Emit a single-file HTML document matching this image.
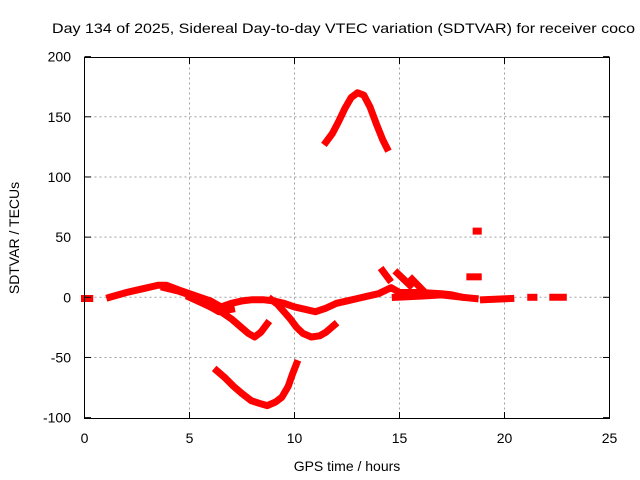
<!DOCTYPE html>
<html><head><meta charset="utf-8"><style>body{margin:0;background:#fff}svg{display:block}text{font-family:"Liberation Sans",sans-serif;font-size:14px;fill:#000}</style></head>
<body>
<svg id="chart" width="640" height="480" xmlns="http://www.w3.org/2000/svg">
<g id="grid"></g>
<g id="series"></g>
<rect x="84.5" y="57.5" width="525" height="361" fill="none" stroke="#000" stroke-width="1"/>
<g id="ticks"></g>
<text x="52" y="33" textLength="583" lengthAdjust="spacingAndGlyphs">Day 134 of 2025, Sidereal Day-to-day VTEC variation (SDTVAR) for receiver coco</text>
<text x="347" y="471" text-anchor="middle">GPS time / hours</text>
<text transform="translate(19,238) rotate(-90)" text-anchor="middle">SDTVAR / TECUs</text>
</svg>
<script>
const xTicks=[0,5,10,15,20,25];
const yTicks=[-100,-50,0,50,100,150,200];
const mainBand=[[1.2,0],[1.6,2],[2,4],[2.5,6],[3,8],[3.5,10],[3.9,10],[4.5,6],[5,3],[5.5,0],[6,-3],[6.5,-8],[7,-5],[7.5,-3],[8,-2],[8.5,-2],[9,-3],[9.5,-5],[10,-8],[10.5,-10],[11,-12],[11.5,-9],[12,-5],[12.5,-3],[13,-1],[13.5,1],[14,3],[14.6,8],[15,4],[16,4],[17,3],[17.5,2],[18,0],[18.6,-1]];
const mainBand2=[[3.8,8],[4.5,5],[5,2],[5.8,-6],[6.4,-12],[7,-10]];
const loopA=[[5,0],[5.5,-4],[6,-8],[6.5,-12],[7,-18],[7.4,-24],[7.8,-30],[8.1,-33],[8.4,-29],[8.7,-22]];
const loopB=[[8.9,-2],[9.2,-6],[9.5,-12],[9.8,-18],[10.1,-25],[10.4,-30],[10.8,-33],[11.2,-32],[11.5,-29],[11.9,-23]];
const lowerU=[[6.3,-61],[6.7,-67],[7.1,-74],[7.5,-80],[7.95,-86],[8.3,-88],[8.7,-90],[9.1,-87],[9.4,-83],[9.7,-74],[9.9,-64],[10.1,-55]];
const upperArch=[[11.5,129],[11.8,136],[12.1,146],[12.4,157],[12.7,166],[13,170],[13.3,168],[13.6,158],[13.9,144],[14.2,131],[14.4,124]];
const spike1=[[14.2,22],[14.5,15]];
const spike2=[[14.9,20],[15.5,10]];
const spike3=[[15.6,15],[16.1,6]];
const seg0=[[0,-1],[0.25,-1]];
const dot55=[[18.65,55],[18.75,55]];
const seg17=[[18.35,17],[18.75,17]];
const tail=[[19,-2],[20.3,-1]];
const dot21=[[21.25,0],[21.4,0]];
const seg22=[[22.3,0],[22.8,0]];
const band15=[[14.8,0],[16,1],[17,2],[18,0]];
const seriesList=[mainBand,mainBand2,loopA,loopB,lowerU,upperArch,spike1,spike2,spike3,seg0,dot55,seg17,tail,dot21,seg22,band15];
const seriesNames=['main-band','main-band-2','loop-a','loop-b','lower-u','upper-arch','spike-1','spike-2','spike-3','segment-0h','point-55','segment-17','tail-segment','point-21h','segment-22h','band-15h'];
const X=h=>84.5+h*21, Y=v=>297.3-v*1.2033;
const NS='http://www.w3.org/2000/svg';
const grid=document.getElementById('grid'),ticks=document.getElementById('ticks'),ser=document.getElementById('series');
function mk(tag,at,parent){const e=document.createElementNS(NS,tag);for(const k in at)e.setAttribute(k,at[k]);parent.appendChild(e);return e;}
xTicks.forEach(t=>{const x=X(t);
 if(t>0&&t<25){const l=mk('line',{x1:x,x2:x,y1:57.5,y2:418.5,stroke:'#a0a0a0','stroke-dasharray':'2,3'},grid);}
 const a=mk('line',{x1:x,x2:x,y1:418.5,y2:412,stroke:'#000'},ticks);
 const b=mk('line',{x1:x,x2:x,y1:57.5,y2:64,stroke:'#000'},ticks);
 const tx=mk('text',{x:x,y:443,'text-anchor':'middle'},ticks);tx.textContent=t;});
yTicks.forEach(t=>{const y=Y(t);
 if(t>-100&&t<200){const l=mk('line',{x1:84.5,x2:609.5,y1:y,y2:y,stroke:'#a0a0a0','stroke-dasharray':'2,3'},grid);}
 const a=mk('line',{x1:84.5,x2:91,y1:y,y2:y,stroke:'#000'},ticks);
 const b=mk('line',{x1:609.5,x2:603,y1:y,y2:y,stroke:'#000'},ticks);
 const tx=mk('text',{x:71,y:y+5,'text-anchor':'end'},ticks);tx.textContent=t;});
seriesList.forEach((s,i)=>{const p=mk('polyline',{points:s.map(d=>X(d[0])+','+Y(d[1])).join(' '),fill:'none',stroke:'#ff0000','stroke-width':7,'stroke-linejoin':'round','stroke-linecap':'square'},ser);
 
 });
</script>
</body></html>
